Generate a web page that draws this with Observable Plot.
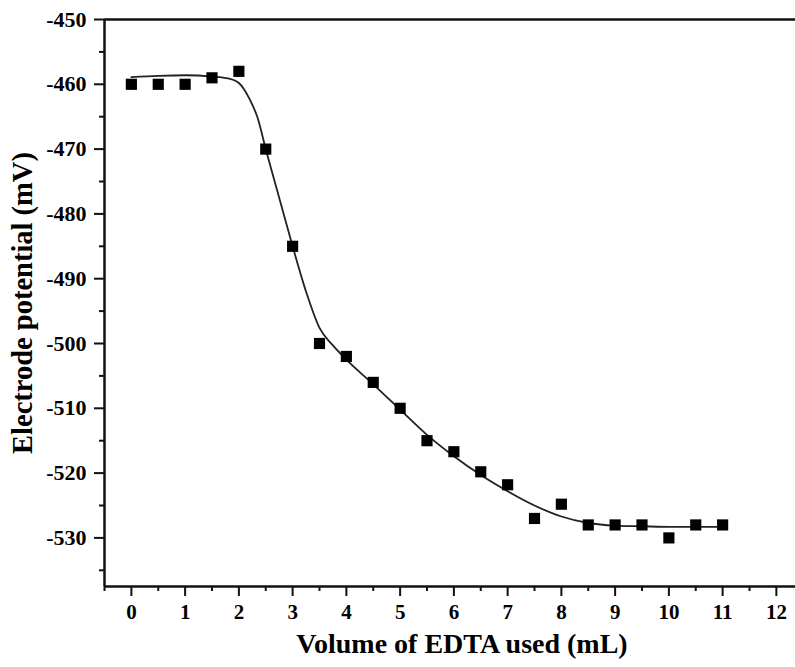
<!DOCTYPE html>
<html>
<head>
<meta charset="utf-8">
<script src="https://cdn.jsdelivr.net/npm/d3@7"></script>
<script src="https://cdn.jsdelivr.net/npm/@observablehq/plot@0.6"></script>
<style>
  html, body { margin: 0; padding: 0; background: #fff; overflow: hidden; }
</style>
</head>
<body>
<div id="chart"></div>
<script>
// Measured points
const volume = [0, 0.5, 1, 1.5, 2, 2.5, 3, 3.5, 4, 4.5, 5, 5.5, 6, 6.5, 7, 7.5, 8, 8.5, 9, 9.5, 10, 10.5, 11];
const potential = [-460, -460, -460, -459, -458, -470, -485, -500, -502, -506, -510, -515, -516.7, -519.8, -521.8, -527, -524.8, -528, -528, -528, -530, -528, -528];

// Fitted curve
const fitX = [0, 0.5, 1, 1.5, 1.8, 2, 2.2, 2.35, 2.5, 2.75, 3, 3.25, 3.5, 3.75, 4, 4.5, 5, 5.5, 6, 6.5, 7, 7.5, 8, 8.5, 9, 9.5, 10, 10.5, 11];
const fitY = [-458.9, -458.7, -458.6, -458.8, -459.1, -459.8, -462.3, -465.2, -470, -477.5, -485, -492, -497.6, -500.3, -502.5, -506.3, -510.2, -514.1, -517.4, -520.3, -522.8, -525, -526.7, -527.7, -528.1, -528.2, -528.3, -528.3, -528.3];

const xMajor = [0, 1, 2, 3, 4, 5, 6, 7, 8, 9, 10, 11, 12];
const xMinor = [-0.5, 0.5, 1.5, 2.5, 3.5, 4.5, 5.5, 6.5, 7.5, 8.5, 9.5, 10.5, 11.5, 12.5];
const yMajor = [-530, -520, -510, -500, -490, -480, -470, -460, -450];
const yMinor = [-535, -525, -515, -505, -495, -485, -475, -465, -455];

const xDomain = [-0.5, 12.5];
const yDomain = [-537.5, -450];
const xTitle = "Volume of EDTA used (mL)";
const yTitle = "Electrode potential (mV)";

const points = volume.map((v, i) => ({x: v, y: potential[i]}));
const fit = fitX.map((v, i) => ({x: v, y: fitY[i]}));

const W = 795, H = 667;
const mLeft = 104, mTop = 19, mBottom = 81;
const unit = 53.75;

const chart = Plot.plot({
  width: W,
  height: H,
  marginLeft: mLeft,
  marginTop: mTop,
  marginBottom: mBottom,
  marginRight: 0,
  style: {fontFamily: "'Liberation Serif', 'Times New Roman', serif", fontWeight: "bold", fontSize: "20px", color: "#000", background: "#fff"},
  x: {domain: xDomain, range: [mLeft, mLeft + unit * (xDomain[1] - xDomain[0])]},
  y: {domain: yDomain},
  marks: [
    Plot.axisX({ticks: xMinor, tickSize: 5, tickFormat: () => "", strokeWidth: 2, stroke: "#111", label: null}),
    Plot.axisX({ticks: xMajor, tickSize: 10, tickPadding: 8, strokeWidth: 2, stroke: "#111", fill: "#000", fontSize: 21, label: null, tickFormat: d => String(d)}),
    Plot.axisY({ticks: yMinor, tickSize: 5, tickFormat: () => "", strokeWidth: 2, stroke: "#111", label: null}),
    Plot.axisY({ticks: yMajor, tickSize: 10, tickPadding: 8, strokeWidth: 2, stroke: "#111", fill: "#000", fontSize: 22, label: null, tickFormat: d => String(d)}),
    Plot.ruleY([yDomain[0]], {stroke: "#111", strokeWidth: 2.5}),
    Plot.ruleY([yDomain[1]], {stroke: "#111", strokeWidth: 2.5}),
    Plot.ruleX([xDomain[0]], {stroke: "#111", strokeWidth: 2.5}),
    Plot.line(fit, {x: "x", y: "y", curve: "monotone-x", stroke: "#222", strokeWidth: 1.8}),
    Plot.dot(points, {x: "x", y: "y", symbol: "square", r: 6.3, fill: "#000", stroke: "none"}),
    Plot.text([xTitle], {frameAnchor: "bottom", textAnchor: "middle", text: d => d, dx: 12, dy: 66, fontSize: 28, fontWeight: "bold", fill: "#000"}),
    Plot.text([yTitle], {frameAnchor: "left", textAnchor: "middle", text: d => d, rotate: -90, dx: -82, fontSize: 28.5, fontWeight: "bold", fill: "#000"})
  ]
});
document.getElementById("chart").appendChild(chart);
</script>
</body>
</html>
